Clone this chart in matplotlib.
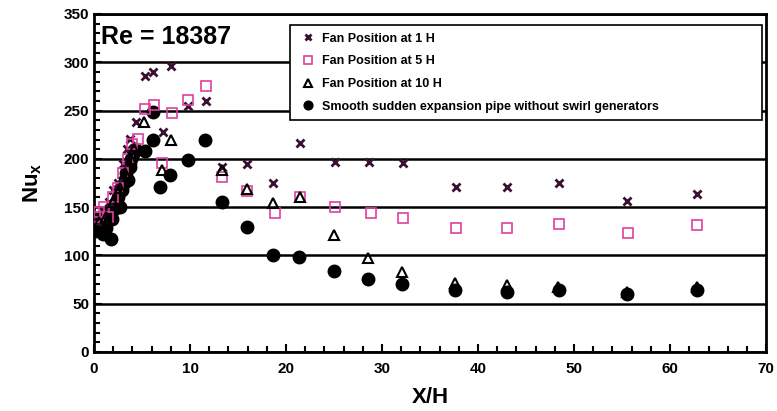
import matplotlib
matplotlib.use("Agg")
import matplotlib.pyplot as plt
from matplotlib.ticker import MultipleLocator

plt.rcParams['font.family'] = ['Liberation Sans', 'DejaVu Sans']
plt.rcParams['font.weight'] = 'bold'
plt.rcParams['mathtext.fontset'] = 'custom'
plt.rcParams['mathtext.rm'] = 'Liberation Sans:bold'
plt.rcParams['mathtext.it'] = 'Liberation Sans:bold'
plt.rcParams['mathtext.bf'] = 'Liberation Sans:bold'

# Fan position at 1 H
x_1h = [0.3, 1.0, 1.6, 2.0, 2.5, 3.0, 3.4, 3.75, 4.4, 5.3, 6.15, 8.0, 7.2, 9.8, 11.7,
        13.3, 15.9, 18.6, 21.5, 25.1, 28.6, 32.2, 37.7, 43.0, 48.4, 55.5, 62.8]
y_1h = [135, 145, 155, 168, 175, 195, 210, 221, 238, 286, 290, 296, 228, 255, 260,
        192, 195, 175, 216, 197, 197, 196, 171, 171, 175, 156, 164]

# Fan position at 5 H
x_5h = [0.1, 0.5, 1.0, 1.5, 2.0, 2.5, 3.0, 3.5, 4.0, 4.6, 5.3, 6.25, 7.1, 8.1, 9.8,
        11.7, 13.3, 15.9, 18.8, 21.5, 25.1, 28.8, 32.2, 37.7, 43.0, 48.4, 55.6, 62.8]
y_5h = [140, 145, 150, 140, 160, 170, 185, 200, 215, 221, 252, 256, 196, 247, 261,
        275, 181, 167, 144, 160, 150, 144, 139, 128, 128, 133, 123, 131]

# Fan position at 10 H
x_10h = [0.5, 1.2, 2.0, 2.7, 3.2, 3.8, 4.2, 5.2, 7.1, 8.0, 13.3, 15.9, 18.6, 21.5,
         25.0, 28.5, 32.1, 37.6, 43.0, 48.3, 55.5, 62.8]
y_10h = [135, 140, 155, 170, 185, 200, 210, 238, 188, 219, 188, 169, 154, 160,
         121, 97, 83, 71, 69, 67, 62, 67]

# Smooth sudden expansion pipe
x_sm = [0.1, 0.3, 0.5, 0.7, 0.9, 1.1, 1.3, 1.5, 1.8, 1.9, 2.1, 2.3, 2.5, 2.7, 2.9,
        3.1, 3.3, 3.5, 3.7, 3.9, 4.1, 4.3, 5.3, 6.1, 6.1, 6.9, 7.9, 9.8, 11.6, 13.3,
        15.9, 18.6, 21.4, 25.0, 28.5, 32.1, 37.6, 43.0, 48.4, 55.5, 62.8]
y_sm = [125, 132, 128, 140, 122, 135, 128, 145, 117, 138, 148, 155, 160, 150, 168,
        175, 185, 178, 192, 200, 205, 210, 208, 219, 249, 171, 183, 199, 219, 155,
        129, 100, 98, 84, 76, 70, 64, 62, 64, 60, 64]

fig = plt.figure(figsize=(7.77, 4.11), dpi=100)
ax = fig.add_axes([0.121, 0.1436, 0.865, 0.8224])

ax.plot(x_sm, y_sm, 'o', color='black', markersize=9, linestyle='none',
        label='Smooth sudden expansion pipe without swirl generators', zorder=3)
ax.plot(x_1h, y_1h, 'x', color='#3a1030', markersize=6, mew=2, linestyle='none',
        label='Fan Position at 1 H', zorder=4)
ax.plot(x_5h, y_5h, 's', color='#e040a0', mfc='none', markersize=7.5, mew=1.2,
        linestyle='none', label='Fan Position at 5 H', zorder=4)
ax.plot(x_10h, y_10h, '^', color='black', mfc='none', markersize=7.5, mew=1.5,
        linestyle='none', label='Fan Position at 10 H', zorder=4)

ax.set_xlim(0, 70)
ax.set_ylim(0, 350)
ax.xaxis.set_major_locator(MultipleLocator(10))
ax.xaxis.set_minor_locator(MultipleLocator(2))
ax.yaxis.set_major_locator(MultipleLocator(50))
ax.yaxis.set_minor_locator(MultipleLocator(10))
ax.tick_params(which='both', direction='in', top=False, right=False,
               labelsize=11, width=1.5)
ax.tick_params(axis='x', which='major', pad=7)
ax.tick_params(which='major', length=6)
ax.tick_params(which='minor', length=4)
ax.grid(axis='y', which='major', color='black', linewidth=1.8)
for s in ax.spines.values():
    s.set_linewidth(2)

ax.set_xlabel('X/H', fontsize=16, fontweight='bold', labelpad=8)
ax.set_ylabel('Nu$_{x}$', fontsize=16, fontweight='bold', labelpad=14)

ax.text(0.01, 0.968, 'Re = 18387', transform=ax.transAxes, fontsize=18,
        fontweight='bold', va='top', ha='left')

handles, labels = ax.get_legend_handles_labels()
order = [1, 2, 3, 0]
leg = ax.legend([handles[i] for i in order], [labels[i] for i in order],
                loc='upper left', bbox_to_anchor=(0.292, 0.686, 0.702, 0.281),
                mode='expand', prop={'size': 9, 'weight': 'bold'}, fancybox=False,
                framealpha=1, edgecolor='black', labelspacing=0.85,
                handlelength=1.6, handletextpad=0.3, borderpad=0.6,
                borderaxespad=0, markerscale=0.7)
leg.get_frame().set_linewidth(1.2)

fig.savefig('out.png', dpi=100)
